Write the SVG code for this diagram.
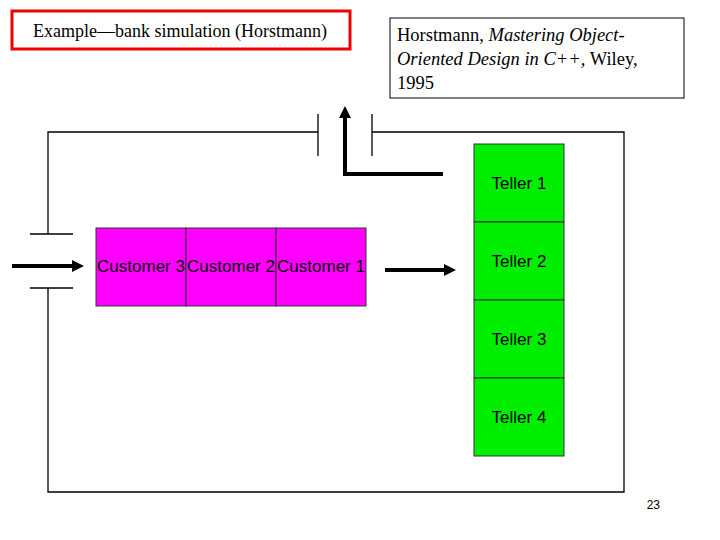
<svg xmlns="http://www.w3.org/2000/svg" width="720" height="540" viewBox="0 0 720 540">
<style>
.w{stroke:#000;stroke-width:1.3;fill:none}
.a{stroke:#000;stroke-width:4;fill:none}
.s{font-family:"Liberation Serif",serif;font-size:18.5px;fill:#000}
.h{font-family:"Liberation Sans",sans-serif;font-size:17px;fill:#000;text-anchor:middle}
.c{fill:#ff00ff;stroke:#333;stroke-width:1}
.t{fill:#00ee00;stroke:#333;stroke-width:1}
</style>
<defs><marker id="ah" markerWidth="4" markerHeight="4" refX="2" refY="2" orient="auto" markerUnits="strokeWidth"><path d="M0,0.5 L3,2 L0,3.5z" fill="#000"/></marker></defs>
<rect width="720" height="540" fill="#fff"/>
<g id="title"><rect x="12" y="11" width="338" height="38" fill="#fff" stroke="#e00" stroke-width="3"/><text x="33" y="37" font-family="Liberation Serif,serif" font-size="18">Example—bank simulation (Horstmann)</text></g>
<g id="ref"><rect x="390" y="18" width="294" height="80" fill="#fff" stroke="#000" stroke-width="1"/>
<text class="s" x="397" y="41">Horstmann, <tspan font-style="italic">Mastering Object-</tspan></text>
<text class="s" x="397" y="65"><tspan font-style="italic">Oriented Design in C++,</tspan> Wiley,</text>
<text class="s" x="397" y="89">1995</text></g>
<g id="walls">
<path class="w" d="M318,132 H48 V234 M48,288 V492 H624 V132 H372"/>
<path class="w" d="M318,114 V156 M372,114 V156 M30,234 H73 M30,288 H73"/>
</g>
<g id="connectors">
<path class="a" d="M443,174 H345 V110" marker-end="url(#ah)"/>
<path class="a" d="M12,266 H80" marker-end="url(#ah)"/>
<path class="a" d="M385,270 H452" marker-end="url(#ah)"/>
</g>
<g id="customers">
<rect class="c" x="96" y="228" width="90" height="78"/><rect class="c" x="186" y="228" width="90" height="78"/><rect class="c" x="276" y="228" width="90" height="78"/>
<text class="h" x="141" y="272" font-size="15">Customer 3</text><text class="h" x="231" y="272" font-size="15">Customer 2</text><text class="h" x="321" y="272" font-size="15">Customer 1</text>
</g>
<g id="tellers">
<rect class="t" x="474" y="144" width="90" height="78"/><text class="h" x="519" y="189">Teller 1</text>
<rect class="t" x="474" y="222" width="90" height="78"/><text class="h" x="519" y="267">Teller 2</text>
<rect class="t" x="474" y="300" width="90" height="78"/><text class="h" x="519" y="345">Teller 3</text>
<rect class="t" x="474" y="378" width="90" height="78"/><text class="h" x="519" y="423">Teller 4</text>
</g>
<text x="660" y="509" font-family="Liberation Sans,sans-serif" font-size="12" text-anchor="end">23</text>
</svg>
